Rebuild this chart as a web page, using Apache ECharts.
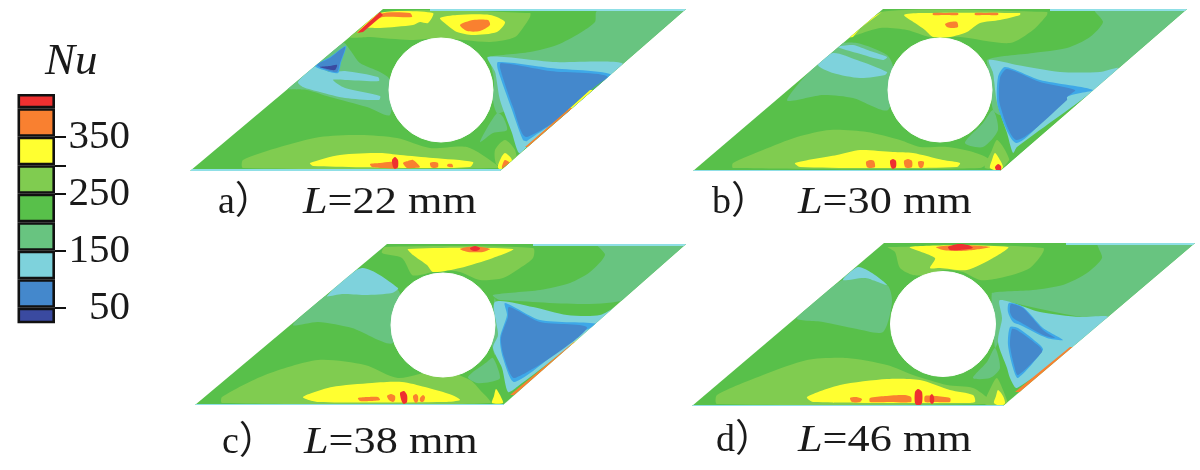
<!DOCTYPE html>
<html><head><meta charset="utf-8">
<style>html,body{margin:0;padding:0;background:#fff}#c{width:1200px;height:470px;filter:blur(0.55px)}</style>
<script src="https://cdn.jsdelivr.net/npm/echarts@6/dist/echarts.min.js"></script>
</head><body><div id="c"></div>
<script>
// Nu legend
const nuBands = [50,100,150,200,250,300,350,400,425];
const nuColors = ['#3a4aa0','#4488cc','#7ed2dc','#68c480','#58c04a','#80cc50','#ffff30','#f98030','#ee3030'];
const nuTicks = [50,150,250,300,350];
const nuLabels = [50,150,250,350];
const levelColors = {G:'#58c04a',L:'#80cc50',M:'#68c480',C:'#7ed2dc',S:'#3ea8e8',B:'#4488cc',D:'#3a4aa0',Y:'#ffff30',O:'#f98030',R:'#ee3030',E:'#8fdfe6'};
const panelCaptions = [['a）','22'],['b）','30'],['c）','38'],['d）','46']];
const outlines = [
 [[383,9],[686,9],[500,171],[190,171]],
 [[883,9],[1187,9],[1000,171],[693,171]],
 [[387,244],[686,244],[503,405],[195,405]],
 [[884,243],[1195,243],[1003,406],[692,406]]
];
const holes = [[441,90,52],[940,90,52],[443,325,52],[943,324,52.5]];
const panelA = [
 ['L',[[243,160],[280,147],[320,137],[360,135],[397,138],[430,148],[467,147],[497,165],[497,168],[243,168]]],
 ['L',[[350,37],[385,12],[530,13],[530,17],[525,25],[515,37],[490,42],[440,38],[410,40],[370,37]]],
 ['M',[[597,11],[690,11],[613,78],[500,60],[487,57],[530,52],[557,45],[580,33],[595,22]]],
 ['M',[[343,43],[350,50],[360,63],[380,72],[390,80],[390,115],[367,107],[330,97],[307,90],[287,88]]],
 ['M',[[480,142],[497,113],[503,117],[507,130],[493,133]]],
 ['M',[[490,60],[495,72],[505,110],[497,113],[493,100],[494,80]]],
 ['C',[[488,57],[553,62],[622,63],[608,80],[527,147],[519,153],[512,133],[500,100],[495,72]]],
 ['S',[[498,62],[550,68],[613,77],[527,141],[523,140],[512,110],[498,70]]],
 ['B',[[501,63],[550,71],[608,78],[527,137],[513,107],[500,68]]],
 ['C',[[298,82],[315,66],[330,72],[345,71],[378,77],[379,81],[345,80],[333,80],[345,88],[380,96],[379,100],[345,98],[320,92],[303,87]]],
 ['S',[[315,66],[330,57],[346,46],[341,63],[338,73],[327,71]]],
 ['B',[[317,65],[330,58],[345,47],[340,63],[337,72],[327,70]]],
 ['D',[[320,67],[330,66],[337,65],[335,70],[327,69]]],
 ['Y',[[357,33],[380,13],[433,13],[428,23],[420,22],[413,25],[380,28],[367,28]]],
 ['Y',[[440,18],[457,15],[490,15],[505,22],[497,32],[473,35],[457,32],[447,25]]],
 ['O',[[460,25],[473,20],[488,20],[490,25],[480,31],[467,31]]],
 ['O',[[357,33],[380,14],[410,13],[412,17],[383,17],[370,23]]],
 ['R',[[357,33],[380,12],[383,15],[363,32]]],
 ['Y',[[310,163],[340,155],[380,153],[400,155],[433,158],[473,162],[470,167],[413,168],[313,166]]],
 ['O',[[370,164],[380,163],[393,162],[397,168],[383,168],[372,167]]],
 ['O',[[403,163],[408,161],[413,160],[420,167],[413,168],[407,168]]],
 ['O',[[430,163],[434,162],[438,163],[438,167],[434,168],[431,167]]],
 ['R',[[392,160],[395,157],[398,160],[398,167],[395,169],[393,167]]],
 ['O',[[448,164],[452,164],[453,167],[449,167],[447,166]]],
 ['L',[[495,150],[505,140],[515,150],[516,165],[497,165]]],
 ['Y',[[498,168],[501,158],[505,153],[511,158],[513,165],[510,170]]],
 ['O',[[502,168],[503,163],[505,160],[510,163],[510,167],[507,170]]],
 ['G',[[606,79],[527,147],[519,155],[498,172],[620,90]]],
 ['Y',[[590,90],[568,110],[574,110],[596,90]]],
 ['O',[[570,108],[525,147],[531,147],[576,108]]],
 ['E',[[430,8],[690,8],[690,11],[430,11]]],
 ['E',[[185,169],[505,169],[505,172],[185,172]]]
];
const panelB = [
 ['L',[[733,163],[763,150],[797,137],[830,130],[867,132],[900,140],[920,147],[947,147],[973,152],[990,160],[980,168],[733,168]]],
 ['L',[[985,168],[992,150],[997,140],[1005,150],[1010,165]]],
 ['L',[[848,37],[880,12],[1047,12],[1047,15],[1033,30],[1010,43],[960,37],[930,37],[907,30],[880,28]]],
 ['Y',[[847,38],[882,12],[867,20],[853,37]]],
 ['Y',[[904,15],[920,13],[1020,13],[1020,15],[1000,20],[980,23],[967,32],[950,37],[933,37],[925,30],[915,23]]],
 ['O',[[945,24],[950,22],[957,22],[958,27],[952,28],[947,27]]],
 ['O',[[933,13],[945,13],[958,13],[958,15],[945,15],[933,15]]],
 ['O',[[975,13],[985,13],[998,13],[998,15],[985,15],[975,15]]],
 ['M',[[1095,10],[1190,10],[1120,68],[1000,75],[987,60],[1033,53],[1067,48],[1090,37],[1103,22]]],
 ['M',[[965,143],[983,123],[993,110],[998,130],[983,147]]],
 ['M',[[987,60],[993,73],[997,103],[1000,115],[993,110],[990,85]]],
 ['C',[[989,60],[1017,65],[1060,72],[1100,72],[1118,68],[1092,92],[1017,147],[1013,153],[1007,133],[997,103],[993,73]]],
 ['S',[[1005,67],[1040,80],[1093,90],[1067,97],[1017,143],[998,107],[998,77]]],
 ['B',[[1007,69],[1040,82],[1075,90],[1067,97],[1067,100],[1017,140],[1000,105],[1000,78]]],
 ['M',[[837,45],[857,43],[887,55],[893,67],[888,110],[853,98],[823,95],[787,100]]],
 ['C',[[838,47],[853,45],[870,51],[887,57],[883,60],[857,53]]],
 ['C',[[818,65],[833,53],[857,60],[887,72],[885,75],[860,78],[833,73]]],
 ['Y',[[795,163],[837,155],[860,150],[893,152],[913,153],[943,160],[960,163],[957,167],[880,168],[800,167]]],
 ['O',[[866,162],[870,160],[874,161],[875,167],[870,168],[867,167]]],
 ['R',[[890,161],[893,159],[896,161],[896,167],[893,169],[891,167]]],
 ['O',[[904,161],[908,159],[912,161],[912,167],[908,168],[905,167]]],
 ['O',[[918,162],[921,161],[924,162],[923,167],[921,168],[919,167]]],
 ['Y',[[990,168],[992,160],[995,153],[1000,160],[1003,167],[1000,171]]],
 ['R',[[995,167],[998,164],[1001,166],[1001,170],[998,171],[996,170]]],
 ['G',[[1110,78],[1017,150],[1000,172],[1125,90]]],
 ['O',[[1020,155],[1071,110],[1075,110],[1024,155]]],
 ['E',[[1050,8],[1190,8],[1190,11],[1050,11]]],
 ['E',[[690,170],[1003,170],[1003,173],[690,173]]]
];
const panelC = [
 ['L',[[222,397],[265,375],[318,360],[365,365],[398,378],[440,370],[470,380],[480,390],[490,403],[222,403]]],
 ['M',[[293,325],[328,295],[398,290],[393,343],[352,328],[318,322]]],
 ['C',[[327,296],[362,268],[398,288],[392,293],[365,295],[342,294]]],
 ['L',[[385,247],[533,248],[533,258],[520,268],[503,278],[480,280],[460,272],[443,270],[420,275],[412,275],[402,258],[382,253]]],
 ['Y',[[408,249],[513,249],[493,258],[460,268],[433,272],[427,265],[413,255]]],
 ['O',[[460,249],[468,247],[480,247],[490,249],[483,252],[468,252]]],
 ['R',[[470,248],[475,246],[480,248],[479,250],[475,251],[471,250]]],
 ['M',[[597,244],[690,244],[625,300],[500,300],[493,295],[540,290],[570,283],[590,272],[605,255]]],
 ['M',[[468,377],[487,362],[493,358],[500,378],[490,382],[477,383]]],
 ['M',[[495,298],[498,335],[495,355],[492,345],[492,320]]],
 ['C',[[495,302],[533,307],[567,315],[600,315],[622,303],[600,323],[517,387],[508,392],[502,368],[493,348],[498,335]]],
 ['S',[[505,303],[540,320],[597,324],[580,333],[515,382],[503,358],[500,338],[507,315]]],
 ['B',[[509,307],[540,322],[587,328],[515,378],[504,357],[501,338],[508,317]]],
 ['Y',[[303,397],[332,387],[372,383],[402,382],[425,387],[452,395],[460,400],[445,402],[318,402]]],
 ['O',[[358,398],[368,397],[378,397],[380,400],[370,401],[360,401]]],
 ['O',[[387,396],[391,394],[395,396],[395,400],[393,402],[389,400]]],
 ['R',[[400,393],[404,391],[407,395],[407,402],[404,404],[402,402]]],
 ['O',[[413,396],[416,394],[418,396],[418,401],[416,403],[414,401]]],
 ['O',[[420,398],[423,395],[425,397],[424,401],[422,402],[420,401]]],
 ['Y',[[492,403],[494,396],[496,389],[500,395],[503,403]]],
 ['G',[[605,325],[518,392],[500,408],[625,335]]],
 ['Y',[[590,330],[570,345],[577,345],[600,330]]],
 ['O',[[510,395],[574,342],[578,342],[514,395]]],
 ['E',[[533,243],[690,243],[690,246],[533,246]]],
 ['E',[[190,404],[508,404],[508,407],[190,407]]]
];
const panelD = [
 ['L',[[717,395],[763,375],[807,360],[847,358],[887,365],[913,375],[947,385],[973,388],[990,400],[990,404],[717,404]]],
 ['L',[[985,404],[992,385],[997,378],[1005,395],[1007,404]]],
 ['L',[[895,252],[888,247],[1043,248],[1030,268],[1000,278],[980,280],[963,272],[945,270],[925,275],[913,275],[900,268]]],
 ['Y',[[910,247],[1008,247],[993,258],[967,270],[940,268],[930,268],[935,258]]],
 ['O',[[936,247],[960,245],[990,247],[973,250],[958,251],[943,250]]],
 ['R',[[948,247],[958,244],[968,245],[973,248],[960,250],[950,250]]],
 ['M',[[797,318],[847,278],[887,285],[892,302],[883,332],[857,329],[823,322]]],
 ['C',[[843,280],[858,267],[872,273],[887,285],[865,278]]],
 ['M',[[1098,243],[1198,243],[1120,317],[1000,300],[992,293],[1033,290],[1063,285],[1087,273],[1102,258]]],
 ['M',[[973,378],[987,362],[995,348],[1000,368],[990,378]]],
 ['M',[[992,293],[1000,300],[1002,318],[998,342],[995,348],[993,320]]],
 ['C',[[1000,300],[1040,312],[1080,317],[1108,317],[1075,345],[1017,388],[1010,378],[1007,368],[998,342],[1002,318]]],
 ['S',[[1009,303],[1023,307],[1043,328],[1063,340],[1047,338],[1020,325],[1013,322],[1008,312]]],
 ['B',[[1011,304],[1023,308],[1043,330],[1055,338],[1043,335],[1020,322],[1013,318],[1010,312]]],
 ['S',[[1010,327],[1018,328],[1040,345],[1043,350],[1018,378],[1013,368],[1008,345]]],
 ['B',[[1012,329],[1017,330],[1040,347],[1042,352],[1018,375],[1014,365],[1010,345]]],
 ['Y',[[807,397],[840,385],[887,379],[920,380],[950,390],[973,395],[975,402],[963,403],[813,402]]],
 ['O',[[870,398],[885,396],[905,395],[911,397],[911,402],[890,402],[870,402]]],
 ['O',[[925,396],[935,396],[950,398],[950,402],[935,402],[925,402]]],
 ['O',[[850,398],[856,397],[862,399],[860,402],[852,402]]],
 ['R',[[915,392],[918,389],[922,392],[922,403],[918,406],[915,403]]],
 ['R',[[930,396],[932,394],[934,397],[934,402],[932,404],[930,402]]],
 ['Y',[[994,403],[996,396],[998,390],[1003,396],[1005,403],[1001,406]]],
 ['G',[[1085,345],[1020,392],[1000,410],[1100,355]]],
 ['O',[[1015,392],[1070,347],[1076,347],[1021,392]]],
 ['E',[[1066,242],[1198,242],[1198,245],[1066,245]]],
 ['E',[[688,405],[1006,405],[1006,408],[688,408]]]
];
const panels = [panelA,panelB,panelC,panelD];

function panelSeries(idx){
  const regions = panels[idx];
  return {
    type:'custom', xAxisIndex:0, yAxisIndex:0, silent:true, clip:false, animation:false,
    data: regions.map((r,i)=>[i]).concat([[regions.length]]),
    encode:{x:0},
    renderItem(params, api){
      const i = params.dataIndex;
      if(i===regions.length){
        const h = holes[idx], c = api.coord([h[0],h[1]]), r = api.size([h[2],0])[0];
        return {type:'circle', shape:{cx:c[0],cy:c[1],r}, style:{fill:'#fff',stroke:'#fff'}};
      }
      const clip = {type:'polygon', shape:{points:outlines[idx].map(p=>api.coord(p))}};
      const reg = regions[i];
      return {type:'polygon', shape:{points:reg[1].map(p=>api.coord(p)), smooth:reg[1].length>4?0.25:0},
        style:{fill:levelColors[reg[0]]}, clipPath:clip};
    }
  };
}
function baseSeries(idx){
  return {type:'custom', xAxisIndex:0, yAxisIndex:0, silent:true, clip:false, animation:false, data:[[0]], encode:{x:0},
    renderItem(params, api){
      return {type:'polygon', shape:{points:outlines[idx].map(p=>api.coord(p))}, style:{fill:levelColors.G}};
    }};
}
let prev = 25;
const bandSeries = nuBands.map((top,i)=>{
  const s = {type:'bar', xAxisIndex:1, yAxisIndex:1, stack:'nu', barWidth:'100%', silent:true, animation:false,
    data:[i===0?top:top-prev], itemStyle:{color:nuColors[i], borderColor:'#111', borderWidth:2.6}};
  prev = top; return s;
});
const serif = '"Liberation Serif","Noto Sans CJK SC",serif';
const captionPos = [[218,303,203],[712,798,203],[222,304,443],[716,798,441]];
const captions = panelCaptions.flatMap((c,i)=>[
  {type:'text', x:captionPos[i][0], y:captionPos[i][2], style:{text:c[0], font:'38px '+serif, fill:'#1a1a1a', verticalAlign:'middle'}},
  {type:'text', x:captionPos[i][1], y:captionPos[i][2], scaleX:1.165, style:{text:'{i|L}{n|='+c[1]+' mm}', verticalAlign:'middle',
     rich:{i:{font:'italic 38px '+serif, fill:'#1a1a1a'}, n:{font:'38px '+serif, fill:'#1a1a1a'}}}}
]);
const chart = echarts.init(document.getElementById('c'), null, {renderer:'canvas', width:1200, height:470});
chart.setOption({
  backgroundColor:'#fff', animation:false,
  grid:[{left:0,top:0,width:1200,height:470},{left:17.5,top:94,width:37.5,height:228}],
  xAxis:[{type:'value',min:0,max:1200,show:false},{type:'category',gridIndex:1,data:['Nu'],show:false}],
  yAxis:[{type:'value',min:0,max:470,inverse:true,show:false},
    {type:'value',gridIndex:1,min:25,max:425,position:'right',splitLine:{show:false},axisLine:{show:false},
     axisTick:{show:true,customValues:nuTicks,length:11,lineStyle:{color:'#111',width:2}},
     axisLabel:{customValues:nuLabels,align:'right',margin:75,fontFamily:'Liberation Serif',fontSize:41,color:'#1a1a1a'}}],
  graphic:[{type:'text',x:45,y:62,style:{text:'Nu',font:'italic 45px "Liberation Serif",serif',fill:'#1a1a1a',verticalAlign:'middle'}}].concat(captions),
  series:[0,1,2,3].flatMap(i=>[baseSeries(i),panelSeries(i)]).concat(bandSeries)
});
</script></body></html>
